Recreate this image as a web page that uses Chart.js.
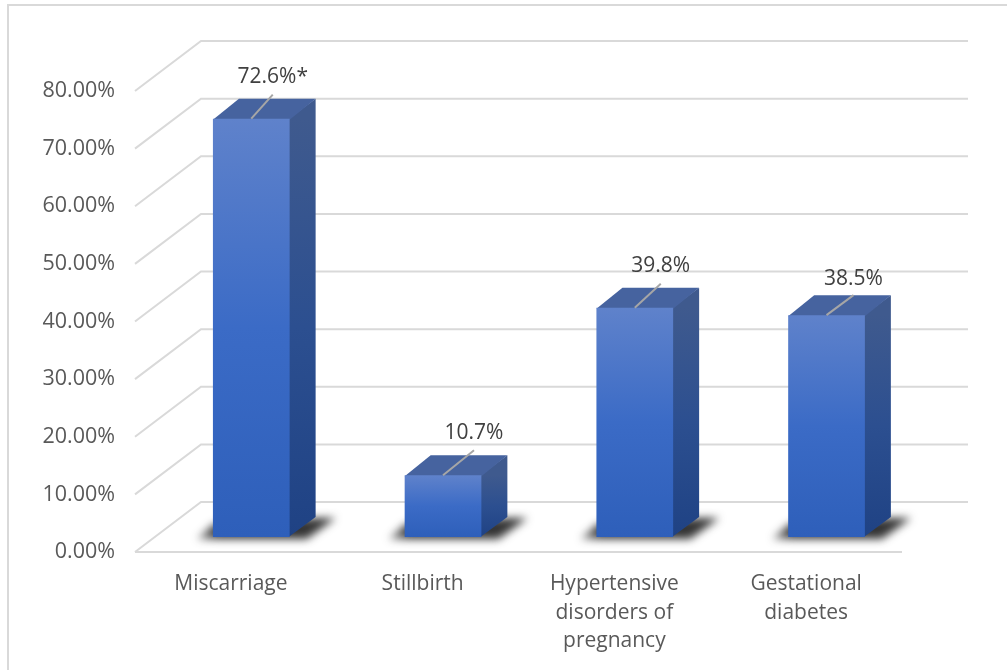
<!DOCTYPE html>
<html>
<head>
<meta charset="utf-8">
<title>Pregnancy outcomes</title>
<script src="https://cdn.jsdelivr.net/npm/chart.js@4"></script>
<style>
	html, body { margin: 0; padding: 0; background: #fff; }
	#wrap { position: relative; width: 1007px; height: 670px; overflow: hidden; }
	#frame { position: absolute; left: 7px; top: 4px; width: 1100px; height: 800px; border: 2px solid #d9d9d9; }
	canvas { position: absolute; left: 0; top: 0; }
</style>
</head>
<body>
<div id="wrap">
	<div id="frame"></div>
	<canvas id="myChart" width="1007" height="670"></canvas>
</div>
<script>
const categories = [
	"Miscarriage",
	"Stillbirth",
	["Hypertensive", "disorders of", "pregnancy"],
	["Gestational", "diabetes"],
];
const values = [72.6, 10.7, 39.8, 38.5];
const valueLabels = ["72.6%*", "10.7%", "39.8%", "38.5%"];
const yTicks = [0, 10, 20, 30, 40, 50, 60, 70, 80];

// depth of the floor and of the columns, in pixels
const wall = { dx: 66, dy: -50 };
const column = { dx: 26, dy: -20, shiftX: 20.4, shiftY: -15 };
// where each value label sits, measured from the middle of the column's top edge
const labelOffset = [
	{ x: 21.5, y: -42, lead: 24 },
	{ x: 31, y: -42, lead: 25 },
	{ x: 26, y: -42, lead: 24 },
	{ x: 27, y: -36, lead: 20 },
];

const FONT = "'Open Sans', sans-serif";

const poly = (ctx, pts, fill) => {
	ctx.beginPath();
	pts.forEach((p, i) => (i ? ctx.lineTo(p[0], p[1]) : ctx.moveTo(p[0], p[1])));
	ctx.closePath();
	ctx.fillStyle = fill;
	ctx.fill();
};

const vGradient = (ctx, top, bottom, stops) => {
	const g = ctx.createLinearGradient(0, top, 0, bottom);
	stops.forEach((s) => g.addColorStop(s[0], s[1]));
	return g;
};

const columnBox = (bar) => ({
	left: bar.x - bar.width / 2 + column.shiftX,
	right: bar.x + bar.width / 2 + column.shiftX,
	top: bar.y + column.shiftY,
	bottom: bar.base + column.shiftY,
});

const box3d = {
	id: "box3d",
	beforeDatasetsDraw(chart) {
		const { ctx, chartArea, scales } = chart;
		const y = scales.y;
		ctx.save();
		// floor and back wall
		ctx.strokeStyle = "#d9d9d9";
		ctx.lineWidth = 2;
		yTicks.forEach((t) => {
			const py = y.getPixelForValue(t);
			ctx.beginPath();
			ctx.moveTo(chartArea.left, py);
			ctx.lineTo(chartArea.left + wall.dx, py + wall.dy);
			ctx.lineTo(chartArea.right + wall.dx, py + wall.dy);
			ctx.stroke();
		});
		ctx.beginPath();
		ctx.moveTo(chartArea.left, y.getPixelForValue(0));
		ctx.lineTo(chartArea.right, y.getPixelForValue(0));
		ctx.stroke();

		const bars = chart.getDatasetMeta(0).data;
		// soft shadows on the floor
		bars.forEach((bar) => {
			const b = columnBox(bar);
			ctx.save();
			ctx.filter = "blur(4px)";
			const fade = ctx.createLinearGradient(b.left - 18, 0, b.left + 4, 0);
			fade.addColorStop(0, "rgba(30,30,30,0.4)");
			fade.addColorStop(1, "rgba(30,30,30,0.9)");
			poly(ctx, [
				[b.left - 16, b.bottom + 2],
				[b.left + 1, b.bottom - 13],
				[b.right + column.dx, b.bottom + column.dy + 1],
				[b.right + column.dx + 20, b.bottom + column.dy + 1],
				[b.right + 17, b.bottom + 2],
			], fade);
			ctx.restore();
		});
		// side and top of each column, tucked slightly under the front face
		bars.forEach((bar) => {
			const b = columnBox(bar);
			poly(ctx, [
				[b.right - 1, b.top],
				[b.right + column.dx, b.top + column.dy],
				[b.right + column.dx, b.bottom + column.dy],
				[b.right - 1, b.bottom],
			], vGradient(ctx, b.top, b.bottom, [[0, "#3f5a8e"], [0.5, "#2c4f90"], [1, "#1f4284"]]));
			poly(ctx, [
				[b.left, b.top + 1],
				[b.left + column.dx, b.top + column.dy],
				[b.right + column.dx, b.top + column.dy],
				[b.right, b.top + 1],
			], "#46639f");
		});
		ctx.restore();
	},
	beforeDatasetDraw(chart) {
		chart.ctx.save();
		chart.ctx.translate(column.shiftX, column.shiftY);
	},
	afterDatasetDraw(chart) {
		chart.ctx.restore();
	},
	afterDatasetsDraw(chart) {
		const { ctx } = chart;
		ctx.save();
		chart.getDatasetMeta(0).data.forEach((bar, i) => {
			const b = columnBox(bar);
			const mid = (b.left + b.right) / 2;
			const off = labelOffset[i];
			ctx.strokeStyle = "#a6a6a6";
			ctx.lineWidth = 2;
			ctx.beginPath();
			ctx.moveTo(mid, b.top);
			ctx.lineTo(mid + off.x, b.top - off.lead);
			ctx.stroke();
			ctx.fillStyle = "#404040";
			ctx.font = "21px " + FONT;
			ctx.textAlign = "center";
			ctx.textBaseline = "middle";
			ctx.fillText(valueLabels[i], mid + off.x, b.top + off.y);
		});
		ctx.restore();
	},
};

new Chart(document.getElementById("myChart"), {
	type: "bar",
	data: {
		labels: categories,
		datasets: [
			{
				data: values,
				barPercentage: 0.4,
				categoryPercentage: 1,
				clip: false,
				backgroundColor: (c) => {
					const y = c.chart.scales.y;
					const top = y ? y.getPixelForValue(c.raw) : NaN;
					// scales have no size on the first resolve
					if (!Number.isFinite(top)) return "#3b6bc6";
					return vGradient(c.chart.ctx, top, y.getPixelForValue(0), [
						[0, "#5f82cb"],
						[0.5, "#3b6bc6"],
						[1, "#2e5fba"],
					]);
				},
			},
		],
	},
	options: {
		responsive: false,
		animation: false,
		layout: { padding: { top: 91, left: 0, right: 105, bottom: 0 } },
		plugins: { legend: { display: false }, tooltip: { enabled: false } },
		scales: {
			x: {
				afterFit: (s) => { s.height = 118; },
				grid: { display: false },
				border: { display: false },
				ticks: {
					color: "#595959",
					font: { family: FONT, size: 21, lineHeight: 1.36 },
					padding: 10,
					maxRotation: 0,
					autoSkip: false,
				},
			},
			y: {
				min: 0,
				max: 80,
				afterFit: (s) => { s.width = 135; },
				grid: { display: false },
				border: { display: false },
				ticks: {
					stepSize: 10,
					color: "#595959",
					font: { family: FONT, size: 21.5 },
					padding: 12,
					callback: (v) => v.toFixed(2) + "%",
				},
			},
		},
	},
	plugins: [box3d],
});
</script>
</body>
</html>
